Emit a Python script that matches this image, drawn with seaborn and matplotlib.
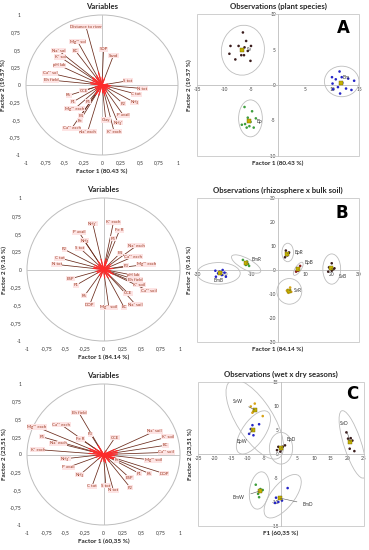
import numpy as np
import pandas as pd
import seaborn as sns
import matplotlib.pyplot as plt
from matplotlib.patches import Ellipse, Circle, Rectangle

# ---------------- correlation circles (variables) ----------------
vars_a = ["Distance to river", "Mg²⁺ sol", "SDP", "Sand", "Na⁺ sol", "EC", "K⁺ sol",
          "pH lab", "Ca²⁺ sol", "Eh field", "S tot", "N tot", "C tot", "NH₄", "F2",
          "P avail", "NH₄⁺", "Clay", "K⁺ exch", "Na⁺ exch", "Ca²⁺ exch", "Fe", "F4",
          "Mg²⁺ exch", "F5", "F1", "F6", "CCE"]
xa = [-0.21, -0.32, 0.02, 0.15, -0.57, -0.35, -0.55, -0.56, -0.68, -0.67, 0.34, 0.53,
      0.45, 0.43, 0.28, 0.28, 0.21, 0.05, 0.16, -0.19, -0.40, -0.29, -0.28, -0.36,
      -0.18, -0.38, -0.44, -0.24]
ya = [0.83, 0.62, 0.51, 0.42, 0.49, 0.49, 0.40, 0.28, 0.17, 0.07, 0.06, -0.05, -0.13,
      -0.25, -0.27, -0.43, -0.54, -0.50, -0.67, -0.67, -0.62, -0.51, -0.44, -0.34,
      -0.24, -0.24, -0.15, -0.08]

vars_b = ["NH₄⁺", "K⁺ exch", "P avail", "Fe R", "NH₄", "F5", "F2", "S tot", "Na⁺ exch",
          "F4", "Ca²⁺ exch", "C tot", "N tot", "F3", "Mg²⁺ exch", "pH lab", "Eh field",
          "ESP", "K⁺ soil", "F1", "Ca²⁺ soil", "CCE", "F6", "DOP", "Mg²⁺ soil", "EC",
          "Na⁺ soil"]
xb = [-0.14, 0.13, -0.32, 0.21, -0.25, 0.12, -0.51, -0.31, 0.43, 0.22, 0.39, -0.57,
      -0.61, 0.30, 0.56, 0.39, 0.41, -0.43, 0.47, -0.36, 0.59, 0.32, -0.25, -0.18,
      0.07, 0.27, 0.42]
yb = [0.64, 0.66, 0.52, 0.55, 0.40, 0.43, 0.28, 0.30, 0.33, 0.23, 0.18, 0.16, 0.07,
      0.05, 0.07, -0.08, -0.14, -0.13, -0.21, -0.22, -0.30, -0.33, -0.37, -0.49,
      -0.53, -0.53, -0.49]

vars_c = ["Eh field", "Mg²⁺ exch", "Ca²⁺ exch", "F5", "Fe R", "F3", "CCE", "Na⁺ exch",
          "K⁺ exch", "Na⁺ soil", "K⁺ soil", "EC", "Ca²⁺ soil", "NH₄⁺", "Fe", "Mg²⁺ soil",
          "P avail", "F1", "F6", "DOP", "ESP", "NH₄", "C tot", "S tot", "N tot", "F2"]
xc = [-0.32, -0.87, -0.55, -0.80, -0.30, -0.17, 0.15, -0.59, -0.86, 0.67, 0.84, 0.81,
      0.82, -0.50, 0.17, 0.65, -0.46, 0.47, 0.60, 0.79, 0.34, -0.31, -0.15, 0.03,
      0.13, 0.35]
yc = [0.59, 0.39, 0.42, 0.25, 0.22, 0.29, 0.24, 0.16, 0.07, 0.33, 0.25, 0.13, 0.03,
      -0.06, -0.08, -0.08, -0.18, -0.27, -0.27, -0.27, -0.33, -0.29, -0.45, -0.44,
      -0.51, -0.47]

circle_ticks = [-1, -0.75, -0.5, -0.25, 0, 0.25, 0.5, 0.75, 1]

# ---------------- observations ----------------
obs_a = {
    "Sv": ([-6.5, -5.9, -8.8, -7.3, -6.2, -5.0, -5.6, -6.8, -6.3, -9.0, -7.9, -5.1],
           [7.4, 6.2, 5.5, 5.5, 5.3, 5.5, 4.8, 4.2, 4.2, 4.4, 3.6, 3.4]),
    "Bm": ([11.4, 10.0, 10.7, 11.8, 13.0, 10.1, 11.9, 11.1, 12.6, 13.6, 10.2, 11.5, 14.1],
           [1.9, 1.1, 0.8, 1.1, 0.9, 0.2, 0.3, -0.3, -0.5, -0.7, -0.6, -1.2, 0.6]),
    "Bp": ([-6.2, -4.8, -5.6, -4.1, -6.1, -5.1, -5.3, -5.8, -4.5, -6.7],
           [-3.1, -3.7, -4.6, -4.7, -5.5, -5.2, -5.8, -6.0, -6.0, -5.6]),
}
obs_b = {
    "BmB": ([-23.2, -22.2, -21.6, -20.8, -19.8, -19.3, -23.0, -20.5],
            [-0.3, -1.4, -0.7, -2.1, -1.1, -2.8, -2.8, 0.0]),
    "BmR": ([-13.0, -12.1, -11.1, -11.9, -10.7, -11.5], [4.2, 3.1, 2.5, 2.1, 1.7, 3.5]),
    "BpR": ([2.9, 3.9, 2.6, 3.4, 4.1], [8.1, 7.0, 5.3, 6.1, 7.3]),
    "BpB": ([7.1, 7.6, 8.2, 6.7, 7.4], [0.0, 0.7, 1.7, -0.7, -0.3]),
    "SvB": ([19.9, 18.9, 20.5, 19.9, 20.9, 18.6], [2.8, 1.1, 0.3, -0.3, 0.7, -0.7]),
    "SvR": ([4.5, 3.6, 4.9, 3.9, 3.3], [-7.3, -8.4, -9.1, -9.5, -8.6]),
}
obs_c = {
    "SvW": ([-9.1, -7.9, -8.6, -7.6, -5.5, -8.3], [9.9, 10.5, 8.6, 9.1, 7.9, 8.9]),
    "BpW": ([-8.6, -6.6, -9.6, -8.3, -9.1], [6.0, 6.2, 4.2, 3.9, 5.2]),
    "BpD": ([-0.8, 0.5, 1.2, -1.2, -0.2, 0.2], [1.5, 1.5, 1.8, 0.8, 0.5, 1.0]),
    "SvD": ([19.7, 20.2, 21.0, 21.5, 20.7, 22.1], [4.5, 3.2, 3.3, 2.8, 1.1, 0.6]),
    "BmW": ([-7.6, -6.2, -6.0, -6.9, -6.6, -5.5], [-6.4, -7.3, -7.8, -8.3, -9.0, -7.5]),
    "BmD": ([2.0, -1.5, -0.2, 0.3, -0.8, -1.8], [-7.1, -9.1, -9.0, -9.7, -10.0, -10.2]),
}

# ellipses: centre x, centre y, width, height, angle (data units)
ell_a = {"Sv": (-6.5, 4.9, 8.0, 7.0, 10), "Bm": (11.8, 0.5, 6.4, 4.3, 0),
         "Bp": (-5.1, -4.7, 4.4, 5.2, 0)}
ell_b = {"BmB": (-22, -1.4, 16, 9, 0), "BmR": (-11.8, 2.5, 12.5, 4.5, -32),
         "BpR": (3.6, 7.3, 4.3, 7.7, 0), "BpB": (7.5, 0.5, 6.2, 2.2, 60),
         "SvB": (19.9, 0.4, 6.6, 12.6, 0), "SvR": (4.2, -8.9, 9.2, 10.7, 0)}
ell_c = {"SvW": (-7.9, 7.2, 22.0, 9.5, -43), "BpW": (-8.3, 4.5, 12.4, 5.8, 39),
         "BpD": (0, 1.2, 7.0, 6.6, 0), "SvD": (21.6, 2.0, 15.5, 5.0, -63.6),
         "BmW": (-6.5, -7.6, 8.0, 5.8, 70), "BmD": (0.5, -8.8, 13.2, 5.8, 36)}

# group label positions
lab_a = {"Sv": (-5.8, 5.0), "Bm": (12.0, 1.1), "Bp": (-4.0, -5.2)}
lab_b = {"BmB": (-22, -4.2), "BmR": (-8.1, 4.2), "BpR": (7.6, 7.3), "BpB": (11.3, 3.1),
         "SvB": (24.2, -2.8), "SvR": (7.3, -8.4)}
lab_c = {"SvW": (-13, 11), "BpW": (-11.7, 2.6), "BpD": (3.0, 3.0), "SvD": (19, 6.4),
         "BmW": (-12.7, -9.1), "BmD": (8.2, -10.5)}

DARK = "#3a1c1c"
BLUE = "#2424c8"
GREEN = "#3e9e3e"
YEL = "#d8a419"
pal = {"Sv": DARK, "Bm": BLUE, "Bp": GREEN,
       "BmB": BLUE, "BmR": GREEN, "BpR": DARK, "BpB": "#8a2020", "SvB": DARK, "SvR": YEL,
       "SvW": YEL, "BpW": BLUE, "BpD": DARK, "SvD": DARK, "BmW": GREEN, "BmD": BLUE}

ARROW = "#6a2a1a"
LABEL = "#9c3a22"
GRID = "#bdbdbd"

sns.set_theme(style="white")
plt.rcParams['font.family'] = ['Lato', 'DejaVu Sans']


def comma(v):
    s = ("%g" % v).replace(".", ",")
    return s


def draw_circle(ax, names, xs, ys, title, xlab, ylab):
    ax.set_xlim(-1, 1)
    ax.set_ylim(-1, 1)
    ax.add_patch(Circle((0, 0), 1, fill=False, ec=GRID, lw=0.7, clip_on=False))
    ax.axhline(0, color=GRID, lw=0.6, zorder=1)
    ax.axvline(0, color=GRID, lw=0.6, zorder=1)
    for n, x, y in zip(names, xs, ys):
        ax.plot([0, x], [0, y], color=ARROW, lw=0.55, zorder=2)
        ax.plot([0, 0.22 * x], [0, 0.22 * y], color="#ff2b2b", lw=0.9, zorder=3)
        ax.text(x, y, n, fontsize=3.2, color=LABEL, ha="center", va="center", zorder=4,
                bbox=dict(boxstyle="square,pad=0.12", fc="#fde4e4", ec="none"))
    ax.set_xticks(circle_ticks)
    ax.set_yticks(circle_ticks)
    ax.set_xticklabels([comma(t) for t in circle_ticks])
    ax.set_yticklabels([comma(t) for t in circle_ticks])
    for s in ax.spines.values():
        s.set_visible(False)
    ax.tick_params(labelsize=3.6, length=0, pad=4, colors="#333333")
    ax.set_title(title, fontsize=5.6, fontweight="bold", pad=4)
    ax.set_xlabel(xlab, fontsize=4.6, fontweight="bold", labelpad=2)
    ax.set_ylabel(ylab, fontsize=4.6, fontweight="bold", labelpad=2)


def draw_obs(ax, obs, ells, labs, lim_x, lim_y, step_x, step_y, title, xlab, ylab,
             letter, lpos, leader):
    rows = []
    for g, (gx, gy) in obs.items():
        for x, y in zip(gx, gy):
            rows.append((g, x, y))
    df = pd.DataFrame(rows, columns=["group", "x", "y"])
    sns.scatterplot(data=df, x="x", y="y", hue="group", palette=pal, s=3.5,
                    linewidth=0, legend=False, ax=ax, zorder=3)
    cent = df.groupby("group", sort=False)[["x", "y"]].mean()
    sns.scatterplot(data=cent, x="x", y="y", marker="s", s=9, color="#c4b200",
                    edgecolor="#6e6000", linewidth=0.3, legend=False, ax=ax, zorder=4)
    for g, (cx, cy, w, h, a) in ells.items():
        ax.add_patch(Ellipse((cx, cy), w, h, angle=a, fill=False, ec=GRID, lw=0.6,
                             zorder=2))
    for g, (tx, ty) in labs.items():
        if leader:
            ax.annotate(g, xy=(cent.loc[g, "x"], cent.loc[g, "y"]), xytext=(tx, ty),
                        fontsize=3.4, color="#333333", ha="center", va="center",
                        arrowprops=dict(arrowstyle="-", color="#555555", lw=0.4,
                                        shrinkA=2, shrinkB=0), zorder=5)
        else:
            ax.text(tx, ty, g, fontsize=3.4, color="#333333", ha="left", va="center",
                    zorder=5)
    ax.set_xlim(-lim_x, lim_x)
    ax.set_ylim(-lim_y, lim_y)
    xt = np.arange(-lim_x, lim_x + 1, step_x)
    yt = np.arange(-lim_y, lim_y + 1, step_y)
    ax.set_xticks(xt)
    ax.set_yticks(yt)
    ax.set_xticklabels([str(int(t)) if t != 0 else "" for t in xt])
    ax.set_yticklabels([str(int(t)) for t in yt])
    ax.spines["left"].set_position("zero")
    ax.spines["bottom"].set_position("zero")
    for k in ["left", "bottom"]:
        ax.spines[k].set_color(GRID)
        ax.spines[k].set_linewidth(0.6)
    ax.spines["top"].set_visible(False)
    ax.spines["right"].set_visible(False)
    ax.add_patch(Rectangle((0, 0), 1, 1, transform=ax.transAxes, fill=False,
                           ec="#cfcfcf", lw=0.7, clip_on=False))
    ax.tick_params(labelsize=3.5, length=1.2, width=0.4, pad=1, colors="#444444",
                   direction="inout")
    ax.set_title(title, fontsize=5.6, fontweight="bold", pad=4)
    ax.set_xlabel("")
    ax.set_ylabel("")
    ax.text(0.5, -0.035, xlab, transform=ax.transAxes, ha="center", va="top",
            fontsize=4.6, fontweight="bold")
    ax.text(-0.03, 0.5, ylab, transform=ax.transAxes, ha="right", va="center",
            rotation=90, fontsize=4.6, fontweight="bold")
    ax.text(lpos[0], lpos[1], letter, transform=ax.transAxes, ha="center", va="center",
            fontsize=12, fontweight="bold", family="DejaVu Sans", color="black")


fig = plt.figure(figsize=(3.69, 5.5), dpi=100)

W, H = 369.0, 550.0


def box(x0, x1, y0, y1):
    return [x0 / W, 1 - y1 / H, (x1 - x0) / W, (y1 - y0) / H]


ax1 = fig.add_axes(box(26, 178, 15, 155))
ax2 = fig.add_axes(box(197, 359, 14, 156))
ax3 = fig.add_axes(box(27, 180, 198, 341))
ax4 = fig.add_axes(box(197, 359, 198, 342))
ax5 = fig.add_axes(box(27, 180, 384, 525))
ax6 = fig.add_axes(box(198, 364, 382, 526))

draw_circle(ax1, vars_a, xa, ya, "Variables", "Factor 1 (80.43 %)", "Factor 2 (19.57 %)")
draw_circle(ax3, vars_b, xb, yb, "Variables", "Factor 1 (84.14 %)", "Factor 2 (9.16 %)")
draw_circle(ax5, vars_c, xc, yc, "Variables", "Factor 1 (60,35 %)", "Factor 2 (23,51 %)")

draw_obs(ax2, obs_a, ell_a, lab_a, 15, 10, 5, 5, "Observations (plant species)",
         "Factor 1 (80.43 %)", "Factor 2 (19.57 %)", "A", (0.905, 0.9), False)
draw_obs(ax4, obs_b, ell_b, lab_b, 30, 30, 10, 10, "Observations (rhizosphere x bulk soil)",
         "Factor 1 (84.14 %)", "Factor 2 (9.16 %)", "B", (0.895, 0.895), True)
draw_obs(ax6, obs_c, ell_c, lab_c, 25, 15, 5, 5, "Observations (wet x dry seasons)",
         "F1 (60,35 %)", "Factor 2 (23,51 %)", "C", (0.93, 0.92), True)

fig.savefig("out.png", dpi=100, facecolor="white")
